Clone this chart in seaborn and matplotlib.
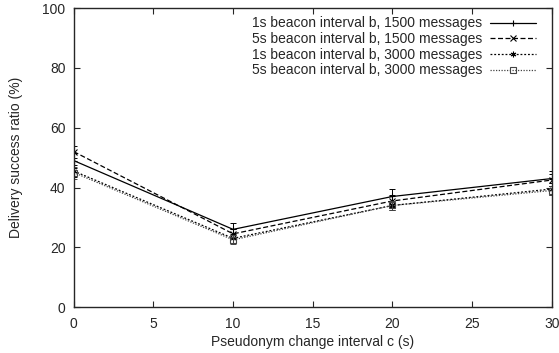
import numpy as np
import pandas as pd
import matplotlib
matplotlib.use("Agg")
import matplotlib.pyplot as plt
from matplotlib.lines import Line2D
import seaborn as sns

# pseudonym change interval c (s)
intervals = [0, 10, 20, 30]

series_names = [
    "1s beacon interval b, 1500 messages",
    "5s beacon interval b, 1500 messages",
    "1s beacon interval b, 3000 messages",
    "5s beacon interval b, 3000 messages",
]

# delivery success ratio (%)
ratio_1s_1500 = [49.0, 26.0, 37.0, 43.0]
ratio_5s_1500 = [52.0, 24.5, 35.5, 42.5]
ratio_1s_3000 = [45.5, 23.0, 34.0, 39.5]
ratio_5s_3000 = [45.0, 22.5, 34.0, 39.0]

# error bar half widths
err_1s_1500 = [2.5, 2.0, 2.5, 2.5]
err_5s_1500 = [2.0, 1.5, 2.0, 2.0]
err_1s_3000 = [2.0, 1.5, 1.5, 2.0]
err_5s_3000 = [2.0, 1.5, 1.5, 1.5]

ratios = [ratio_1s_1500, ratio_5s_1500, ratio_1s_3000, ratio_5s_3000]
errors = [err_1s_1500, err_5s_1500, err_1s_3000, err_5s_3000]

rows = []
for name, vals in zip(series_names, ratios):
    for c, v in zip(intervals, vals):
        rows.append({"interval": c, "ratio": v, "series": name})
df = pd.DataFrame(rows)

sns.set_style("ticks")
plt.rcParams["font.family"] = ["Liberation Sans", "DejaVu Sans"]
plt.rcParams["font.size"] = 10

fig = plt.figure(figsize=(5.59, 3.53), dpi=100)
ax = fig.add_axes([0.132, 0.130, 0.855, 0.847])

dash_styles = [None, (4, 2), (1.5, 1.5), (1, 1.2)]
line_colors = ["black", "black", "black", "#444444"]
markers = ["+", "x", (6, 2, 0), "s"]

for i, name in enumerate(series_names):
    sub = df[df["series"] == name]
    sns.lineplot(data=sub, x="interval", y="ratio", ax=ax, color=line_colors[i],
                 linewidth=0.9, legend=False)
    if dash_styles[i]:
        ax.lines[-1].set_dashes(dash_styles[i])
    ax.errorbar(intervals, ratios[i], yerr=errors[i], fmt="none", ecolor=line_colors[i],
                elinewidth=0.7, capsize=2.5, capthick=0.7)
    ax.plot(intervals, ratios[i], linestyle="none", marker=markers[i], color=line_colors[i],
            markersize=4, markerfacecolor="none", markeredgewidth=0.8)

# legend: text first, then line sample (gnuplot style)
handles = []
for i, name in enumerate(series_names):
    h = Line2D([], [], color=line_colors[i], linewidth=0.9, marker=markers[i],
               markersize=4, markerfacecolor="none", markeredgewidth=0.8)
    if dash_styles[i]:
        h.set_dashes(dash_styles[i])
    handles.append(h)
ax.legend(handles, series_names, loc="upper right", frameon=False, markerfirst=False,
          handlelength=3.3, handletextpad=0.6, labelspacing=0.12, borderaxespad=0.2,
          fontsize=10, bbox_to_anchor=(0.985, 1.0))

ax.set_xlim(0, 30)
ax.set_ylim(0, 100)
ax.set_xticks([0, 5, 10, 15, 20, 25, 30])
ax.set_yticks([0, 20, 40, 60, 80, 100])
ax.tick_params(direction="in", top=True, right=True, length=4, width=0.8, labelsize=10)
ax.tick_params(axis="x", pad=7)
ax.tick_params(axis="y", pad=6)
for s in ax.spines.values():
    s.set_linewidth(1.0)
ax.set_xlabel("Pseudonym change interval c (s)", fontsize=10, labelpad=3)
ax.set_ylabel("Delivery success ratio (%)", fontsize=10, labelpad=14)

fig.savefig("out.png", dpi=100)
